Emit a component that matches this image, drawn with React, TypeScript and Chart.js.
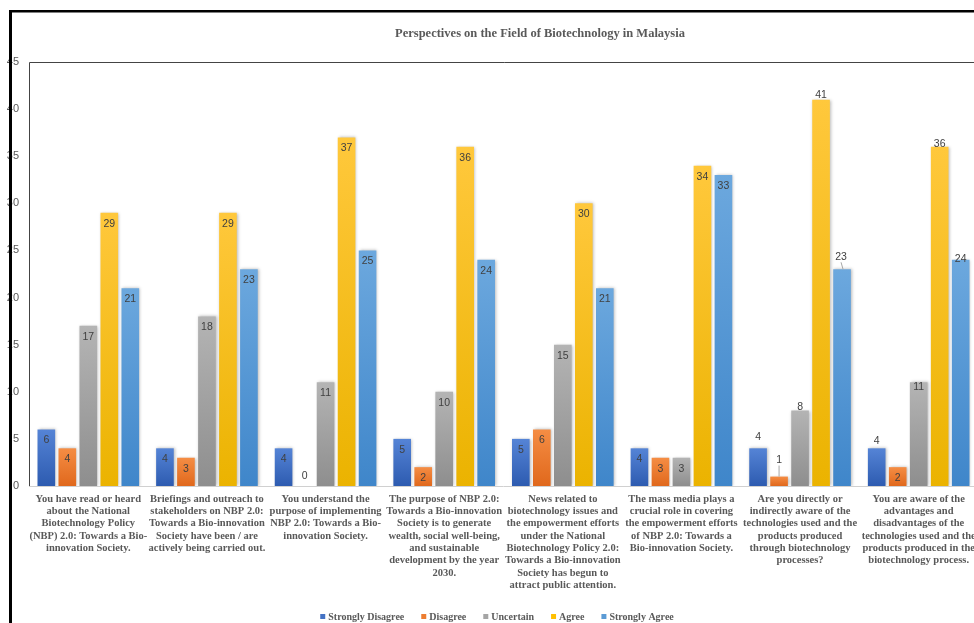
import React, { useEffect, useRef } from 'react';
import { Chart, registerables } from 'chart.js';

Chart.register(...registerables);

const TITLE = 'Perspectives on the Field of Biotechnology in Malaysia';

const statements: string[][] = [
  ['You have read or heard', 'about the National', 'Biotechnology Policy', '(NBP) 2.0: Towards a Bio-', 'innovation Society.'],
  ['Briefings and outreach to', 'stakeholders on NBP 2.0:', 'Towards a Bio-innovation', 'Society have been / are', 'actively being carried out.'],
  ['You understand the', 'purpose of implementing', 'NBP 2.0: Towards a Bio-', 'innovation Society.'],
  ['The purpose of NBP 2.0:', 'Towards a Bio-innovation', 'Society is to generate', 'wealth, social well-being,', 'and sustainable', 'development by the year', '2030.'],
  ['News related to', 'biotechnology issues and', 'the empowerment efforts', 'under the National', 'Biotechnology Policy 2.0:', 'Towards a Bio-innovation', 'Society has begun to', 'attract public attention.'],
  ['The mass media plays a', 'crucial role in covering', 'the empowerment efforts', 'of NBP 2.0: Towards a', 'Bio-innovation Society.'],
  ['Are you directly or', 'indirectly aware of the', 'technologies used and the', 'products produced', 'through biotechnology', 'processes?'],
  ['You are aware of the', 'advantages and', 'disadvantages of the', 'technologies used and the', 'products produced in the', 'biotechnology process.'],
];

const seriesNames = ['Strongly Disagree', 'Disagree', 'Uncertain', 'Agree', 'Strongly Agree'];

const stronglyDisagree = [6, 4, 4, 5, 5, 4, 4, 4];
const disagree = [4, 3, 0, 2, 6, 3, 1, 2];
const uncertain = [17, 18, 11, 10, 15, 3, 8, 11];
const agree = [29, 29, 37, 36, 30, 34, 41, 36];
const stronglyAgree = [21, 23, 25, 24, 21, 33, 23, 24];

const yMin = 0;
const yMax = 45;
const yStep = 5;

// solid swatch colour, gradient top, gradient bottom
const palette = [
  ['#4472C4', '#5584D6', '#2D5BB0'],
  ['#ED7D31', '#F58D44', '#E0681C'],
  ['#A5A5A5', '#B4B4B4', '#8E8E8E'],
  ['#FFC000', '#FFC83C', '#EBB300'],
  ['#5B9BD5', '#6CA8DE', '#3F86CA'],
];

const SERIF = "'Liberation Serif', 'DejaVu Serif', serif";
const SANS = "'Liberation Sans', 'DejaVu Sans', sans-serif";
const TEXT = '#595959';

// hand-placed value labels for the last two statements (offset from bar top, px)
const labelOffsets: Record<string, { dy: number; dx?: number; leader?: boolean }> = {
  '0,6': { dy: -11 },
  '1,6': { dy: -16, leader: true },
  '2,6': { dy: -4 },
  '3,6': { dy: -5 },
  '4,6': { dy: -12, dx: -1, leader: true },
  '0,7': { dy: -7 },
  '2,7': { dy: 5 },
  '3,7': { dy: -3 },
  '4,7': { dy: -1 },
};

function barGradient(seriesIndex: number) {
  return (ctx: any) => {
    const chart = ctx.chart;
    const [, top, bottom] = palette[seriesIndex];
    const y = chart.scales?.y;
    if (!chart.chartArea || !y || ctx.type !== 'data') return palette[seriesIndex][0];
    const v = ctx.raw as number;
    const y0 = y.getPixelForValue(0);
    const y1 = y.getPixelForValue(v);
    if (Math.abs(y0 - y1) < 1) return palette[seriesIndex][0];
    const g = chart.ctx.createLinearGradient(0, y1, 0, y0);
    g.addColorStop(0, top);
    g.addColorStop(1, bottom);
    return g;
  };
}

const decorPlugin = {
  id: 'decor',
  beforeDatasetsDraw(chart: any) {
    const ctx = chart.ctx;
    ctx.save();
    ctx.shadowColor = 'rgba(0,0,0,0.28)';
    ctx.shadowBlur = 3;
    ctx.shadowOffsetX = 1;
    ctx.shadowOffsetY = 0;
  },
  afterDatasetsDraw(chart: any) {
    const ctx = chart.ctx;
    ctx.restore();
    ctx.save();
    ctx.font = `10.5px ${SANS}`;
    ctx.fillStyle = '#404040';
    ctx.textAlign = 'center';
    ctx.textBaseline = 'middle';
    chart.data.datasets.forEach((ds: any, d: number) => {
      const meta = chart.getDatasetMeta(d);
      meta.data.forEach((el: any, i: number) => {
        const v = ds.data[i];
        const key = `${d},${i}`;
        const o = labelOffsets[key];
        let x = el.x;
        let y: number;
        if (o) {
          y = el.y + o.dy;
          x += o.dx || 0;
          if (o.leader) {
            ctx.save();
            ctx.strokeStyle = '#A6A6A6';
            ctx.lineWidth = 1;
            ctx.beginPath();
            ctx.moveTo(x, y + 5);
            ctx.lineTo(el.x + (o.dx ? 1 : 0), el.y);
            ctx.stroke();
            ctx.restore();
          }
        } else if (v === 0) {
          y = el.y - 10;
        } else {
          y = el.y + 11;
        }
        ctx.fillText(String(v), x, y);
      });
    });
    ctx.restore();
  },
  afterDraw(chart: any) {
    const ctx = chart.ctx;
    const { left, top, right, bottom } = chart.chartArea;
    ctx.save();

    // title
    ctx.font = `bold 12.5px ${SERIF}`;
    ctx.fillStyle = TEXT;
    ctx.textAlign = 'center';
    ctx.textBaseline = 'middle';
    ctx.fillText(TITLE, 540, 34);

    // legend
    ctx.font = `bold 10px ${SERIF}`;
    ctx.textAlign = 'left';
    const box = 5;
    const gapText = 3;
    const gapItem = 17;
    const widths = seriesNames.map((n) => box + gapText + ctx.measureText(n).width);
    const total = widths.reduce((a, b) => a + b, 0) + gapItem * (widths.length - 1);
    let lx = 497 - total / 2;
    const ly = 617;
    seriesNames.forEach((n, k) => {
      ctx.fillStyle = palette[k][0];
      ctx.fillRect(lx, ly - 3, box, box);
      ctx.fillStyle = TEXT;
      ctx.fillText(n, lx + box + gapText, ly);
      lx += widths[k] + gapItem;
    });

    // plot area border
    ctx.lineWidth = 1;
    ctx.strokeStyle = '#D0D0D0';
    ctx.beginPath();
    ctx.moveTo(left, bottom + 0.5);
    ctx.lineTo(right, bottom + 0.5);
    ctx.stroke();
    ctx.strokeStyle = '#444444';
    ctx.beginPath();
    ctx.moveTo(left + 0.5, bottom);
    ctx.lineTo(left + 0.5, top + 0.5);
    ctx.lineTo(chart.width, top + 0.5);
    ctx.stroke();

    // outer frame
    ctx.fillStyle = '#000000';
    ctx.fillRect(9, 10, chart.width, 2.5);
    ctx.fillRect(9, 10, 3, chart.height);
    ctx.restore();
  },
};

export default function App() {
  const canvasRef = useRef<HTMLCanvasElement | null>(null);

  useEffect(() => {
    const canvas = canvasRef.current;
    if (!canvas) return;
    const series = [stronglyDisagree, disagree, uncertain, agree, stronglyAgree];
    const chart = new Chart(canvas, {
      type: 'bar',
      data: {
        labels: statements,
        datasets: series.map((values, k) => ({
          label: seriesNames[k],
          data: values,
          backgroundColor: barGradient(k),
          borderWidth: 0,
          barPercentage: 0.84,
          categoryPercentage: 0.885,
        })),
      },
      options: {
        responsive: false,
        animation: false,
        layout: { padding: { top: 62, left: 0, right: 2, bottom: 0 } },
        plugins: {
          legend: { display: false },
          title: { display: false },
          tooltip: { enabled: false },
        },
        scales: {
          x: {
            grid: { display: false, drawTicks: false },
            border: { display: false },
            ticks: {
              autoSkip: false,
              maxRotation: 0,
              minRotation: 0,
              padding: 7,
              color: TEXT,
              font: { family: SERIF, size: 10.5, weight: 'bold', lineHeight: 1.17 },
            },
            afterFit: (scale: any) => {
              scale.height = 137;
              scale.paddingLeft = 0;
              scale.paddingRight = 0;
            },
          },
          y: {
            min: yMin,
            max: yMax,
            grid: { display: false, drawTicks: false },
            border: { display: false },
            ticks: {
              stepSize: yStep,
              padding: 10,
              color: TEXT,
              font: { family: SANS, size: 11 },
            },
            afterFit: (scale: any) => {
              scale.width = 29;
              scale.paddingTop = 0;
              scale.paddingBottom = 0;
            },
          },
        },
      },
      plugins: [decorPlugin],
    });
    return () => chart.destroy();
  }, []);

  return (
    <div
      style={{
        position: 'fixed',
        left: 0,
        top: 0,
        width: 974,
        height: 623,
        overflow: 'hidden',
        background: '#ffffff',
      }}
    >
      <canvas ref={canvasRef} width={980} height={623} style={{ width: 980, height: 623, display: 'block' }} />
    </div>
  );
}
